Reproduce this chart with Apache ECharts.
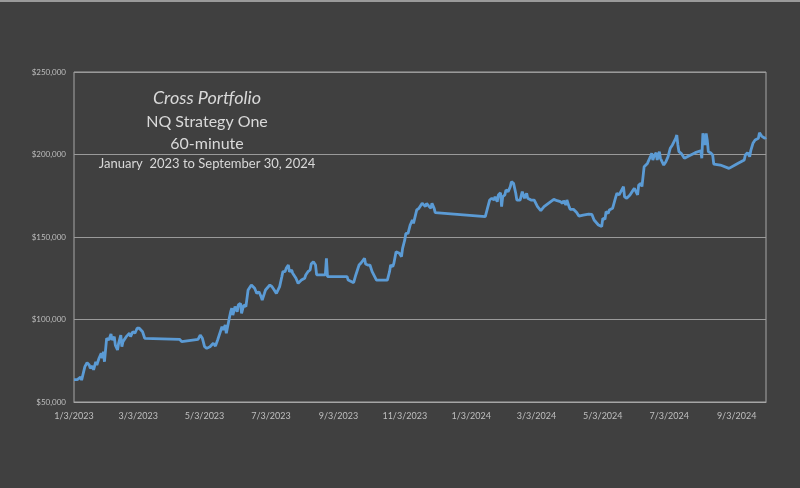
<!DOCTYPE html>
<html>
<head>
<meta charset="utf-8">
<script src="https://cdn.jsdelivr.net/npm/echarts@6/dist/echarts.min.js"></script>
<style>
html,body{margin:0;padding:0;background:#404040;}
#chart{width:800px;height:488px;}
</style>
</head>
<body>
<div id="chart"></div>
<script>
// ---- Data ----
const titleLines = ['Cross Portfolio', 'NQ Strategy One', '60-minute', 'January  2023 to September 30, 2024'];
const xTickLabels = ['1/3/2023','3/3/2023','5/3/2023','7/3/2023','9/3/2023','11/3/2023','1/3/2024','3/3/2024','5/3/2024','7/3/2024','9/3/2024'];
const yTicks = [50000, 100000, 150000, 200000, 250000];
const xRange = ['2023-01-03', '2024-09-30'];

const dates = [
'2023-01-03','2023-01-06','2023-01-09','2023-01-10','2023-01-13','2023-01-15','2023-01-17','2023-01-18','2023-01-20','2023-01-21',
'2023-01-23','2023-01-24','2023-01-26','2023-01-28','2023-01-29','2023-01-30','2023-01-31','2023-02-02','2023-02-04','2023-02-06',
'2023-02-07','2023-02-09','2023-02-10','2023-02-12','2023-02-13','2023-02-15','2023-02-16','2023-02-17','2023-02-20','2023-02-21',
'2023-02-23','2023-02-24','2023-02-26','2023-02-28','2023-03-02','2023-03-04','2023-03-05','2023-03-07','2023-03-09','2023-04-10',
'2023-04-12','2023-04-27','2023-04-29','2023-05-01','2023-05-03','2023-05-05','2023-05-08','2023-05-09','2023-05-11','2023-05-13',
'2023-05-15','2023-05-16','2023-05-19','2023-05-20','2023-05-22','2023-05-23','2023-05-26','2023-05-27','2023-05-28','2023-05-29',
'2023-05-31','2023-06-02','2023-06-03','2023-06-05','2023-06-06','2023-06-08','2023-06-10','2023-06-12','2023-06-15','2023-06-18',
'2023-06-20','2023-06-22','2023-06-24','2023-06-25','2023-06-27','2023-06-28','2023-07-02','2023-07-04','2023-07-06','2023-07-08',
'2023-07-11','2023-07-13','2023-07-14','2023-07-16','2023-07-17','2023-07-19','2023-07-20','2023-07-22','2023-07-23','2023-07-26',
'2023-07-28','2023-07-31','2023-08-03','2023-08-04','2023-08-06','2023-08-08','2023-08-09','2023-08-11','2023-08-12','2023-08-13',
'2023-08-14','2023-08-22','2023-08-23','2023-08-24','2023-09-11','2023-09-12','2023-09-17','2023-09-19','2023-09-22','2023-09-24',
'2023-09-25','2023-09-27','2023-09-28','2023-09-30','2023-10-02','2023-10-04','2023-10-08','2023-10-18','2023-10-20','2023-10-21',
'2023-10-23','2023-10-24','2023-10-26','2023-10-27','2023-10-29','2023-10-31','2023-11-01','2023-11-03','2023-11-04','2023-11-06',
'2023-11-08','2023-11-10','2023-11-11','2023-11-14','2023-11-16','2023-11-17','2023-11-19','2023-11-20','2023-11-22','2023-11-23',
'2023-11-25','2023-11-27','2023-11-28','2023-11-30','2023-12-01','2024-01-16','2024-01-18','2024-01-20','2024-01-22','2024-01-24',
'2024-01-25','2024-01-27','2024-01-28','2024-01-30','2024-01-31','2024-02-01','2024-02-03','2024-02-04','2024-02-06','2024-02-08',
'2024-02-09','2024-02-11','2024-02-13','2024-02-14','2024-02-17','2024-02-19','2024-02-21','2024-02-23','2024-02-24','2024-02-27',
'2024-03-01','2024-03-04','2024-03-07','2024-03-10','2024-03-14','2024-03-19','2024-03-22','2024-03-25','2024-03-27','2024-03-28',
'2024-03-30','2024-03-31','2024-04-02','2024-04-03','2024-04-06','2024-04-09','2024-04-11','2024-04-15','2024-04-20','2024-04-23',
'2024-04-25','2024-04-29','2024-05-02','2024-05-03','2024-05-05','2024-05-06','2024-05-08','2024-05-09','2024-05-12','2024-05-13',
'2024-05-15','2024-05-16','2024-05-18','2024-05-19','2024-05-22','2024-05-23','2024-05-25','2024-05-28','2024-05-30','2024-06-01',
'2024-06-04','2024-06-05','2024-06-07','2024-06-08','2024-06-10','2024-06-13','2024-06-14','2024-06-16','2024-06-17','2024-06-18',
'2024-06-19','2024-06-21','2024-06-22','2024-06-24','2024-06-25','2024-06-28','2024-06-30','2024-07-02','2024-07-04','2024-07-06',
'2024-07-07','2024-07-09','2024-07-10','2024-07-11','2024-07-12','2024-07-14','2024-07-15','2024-07-17','2024-07-21','2024-07-27',
'2024-08-01','2024-08-02','2024-08-03','2024-08-05','2024-08-06','2024-08-07','2024-08-08','2024-08-10','2024-08-12','2024-08-13',
'2024-08-19','2024-08-27','2024-09-04','2024-09-10','2024-09-11','2024-09-13','2024-09-15','2024-09-16','2024-09-18','2024-09-20',
'2024-09-21','2024-09-23','2024-09-24','2024-09-26','2024-09-27','2024-09-29','2024-09-30'
];

const equity = [
63600,63600,65100,63300,71400,73800,72400,70400,71800,69400,
74400,72400,76500,79500,76500,80500,74400,88600,87600,91200,
87600,89600,84500,81500,85600,90600,83500,86600,89600,88600,
91700,89600,92600,91700,94700,94700,95600,92600,88600,88000,
86600,88000,90600,88600,83500,82500,83500,82500,85600,83900,
87600,86600,95600,93600,96700,91700,101700,104700,106800,102700,
107800,104700,108800,109800,103700,108800,107800,117900,120900,118900,
115800,116800,113800,111800,115800,117900,120900,119900,117900,115800,
119900,125900,129000,129000,131000,133000,129000,130000,128000,125000,
121900,123900,125000,127000,129000,130000,133600,135000,136100,133000,
127000,127000,137100,126000,126000,123900,122300,127000,133000,134400,
134100,137100,133600,133000,133000,129000,123900,123900,129000,133000,
132000,134100,141100,142100,140100,138100,143100,148200,152200,152200,
157300,160300,158300,166400,167400,166400,170400,169400,168400,170400,
168800,167400,170400,167400,164800,162300,167400,172400,173500,172400,
174400,171400,175500,176800,168400,174400,175500,178500,177500,180500,
183500,182500,176500,172400,172400,177500,173500,176500,173500,172400,
172400,168400,166000,168400,170400,172800,172000,171400,170400,172000,
169400,172400,168400,166800,166800,164800,162700,163300,163900,163700,
160300,157300,156300,161300,160700,165300,164400,166400,167400,168000,
174400,176500,175500,176100,180500,174400,173500,175500,177500,179500,
175500,181500,182500,180500,192600,194600,195600,199100,200700,196700,
198700,201100,196700,201700,197700,193600,195600,198700,203800,205800,
206800,209800,211800,205800,201700,200700,201700,197700,199100,201100,
202300,197700,212800,205800,212800,208800,201700,201100,199700,194200,
193600,191600,194600,196700,199700,201100,198700,202300,206800,208800,
207800,209800,213200,211200,211800,209800,210400
];

// ---- Helpers ----
function parseMDY(s) { const p = s.split('/').map(Number); return new Date(p[2], p[0]-1, p[1]).getTime(); }
function parseISO(s) { const p = s.split('-').map(Number); return new Date(p[0], p[1]-1, p[2]).getTime(); }
function fmtMDY(v) { const d = new Date(v); return (d.getMonth()+1) + '/' + d.getDate() + '/' + d.getFullYear(); }

const tickValues = xTickLabels.map(parseMDY);
const seriesData = dates.map((d, i) => [parseISO(d), equity[i]]);

const chart = echarts.init(document.getElementById('chart'), null, {renderer: 'canvas'});
const font = 'Lato, "Open Sans", sans-serif';
const titleSizes = [18, 16, 16, 13];
const titleY = [98, 122, 144, 164];

chart.setOption({
  backgroundColor: '#404040',
  animation: false,
  grid: { left: 74, right: 34, top: 72, bottom: 86, show: true, borderColor: '#a6a6a6', borderWidth: 1, backgroundColor: 'transparent' },
  graphic: [
    { type: 'rect', left: 0, top: 0, shape: { width: 800, height: 2 }, style: { fill: '#9a9a9a' }, silent: true }
  ].concat(titleLines.map((t, i) => ({
    type: 'text', x: 207, y: titleY[i], silent: true,
    style: { text: t, fill: '#d9d9d9', font: (i === 0 ? 'italic ' : '') + titleSizes[i] + 'px ' + font, align: 'center', verticalAlign: 'middle' }
  }))),
  xAxis: {
    type: 'value',
    min: parseISO(xRange[0]),
    max: parseISO(xRange[1]),
    axisLine: { show: true, lineStyle: { color: '#a6a6a6', width: 1 } },
    axisTick: { show: false },
    splitLine: { show: false },
    axisLabel: {
      customValues: tickValues,
      formatter: v => fmtMDY(v),
      color: '#bfbfbf', fontSize: 9, fontFamily: font, margin: 10,
      hideOverlap: false
    }
  },
  yAxis: {
    type: 'value',
    min: yTicks[0], max: yTicks[yTicks.length-1], interval: 50000,
    axisLine: { show: false },
    axisTick: { show: false },
    splitLine: { show: true, lineStyle: { color: '#9a9a9a', width: 1 } },
    axisLabel: {
      formatter: v => '$' + v.toLocaleString('en-US'),
      color: '#bfbfbf', fontSize: 8, fontFamily: font, margin: 8
    }
  },
  series: [{
    type: 'line',
    data: seriesData,
    showSymbol: false,
    symbol: 'none',
    lineStyle: { color: '#5b9bd5', width: 2.8 },
    itemStyle: { color: '#5b9bd5' }
  }]
});
</script>
</body>
</html>
